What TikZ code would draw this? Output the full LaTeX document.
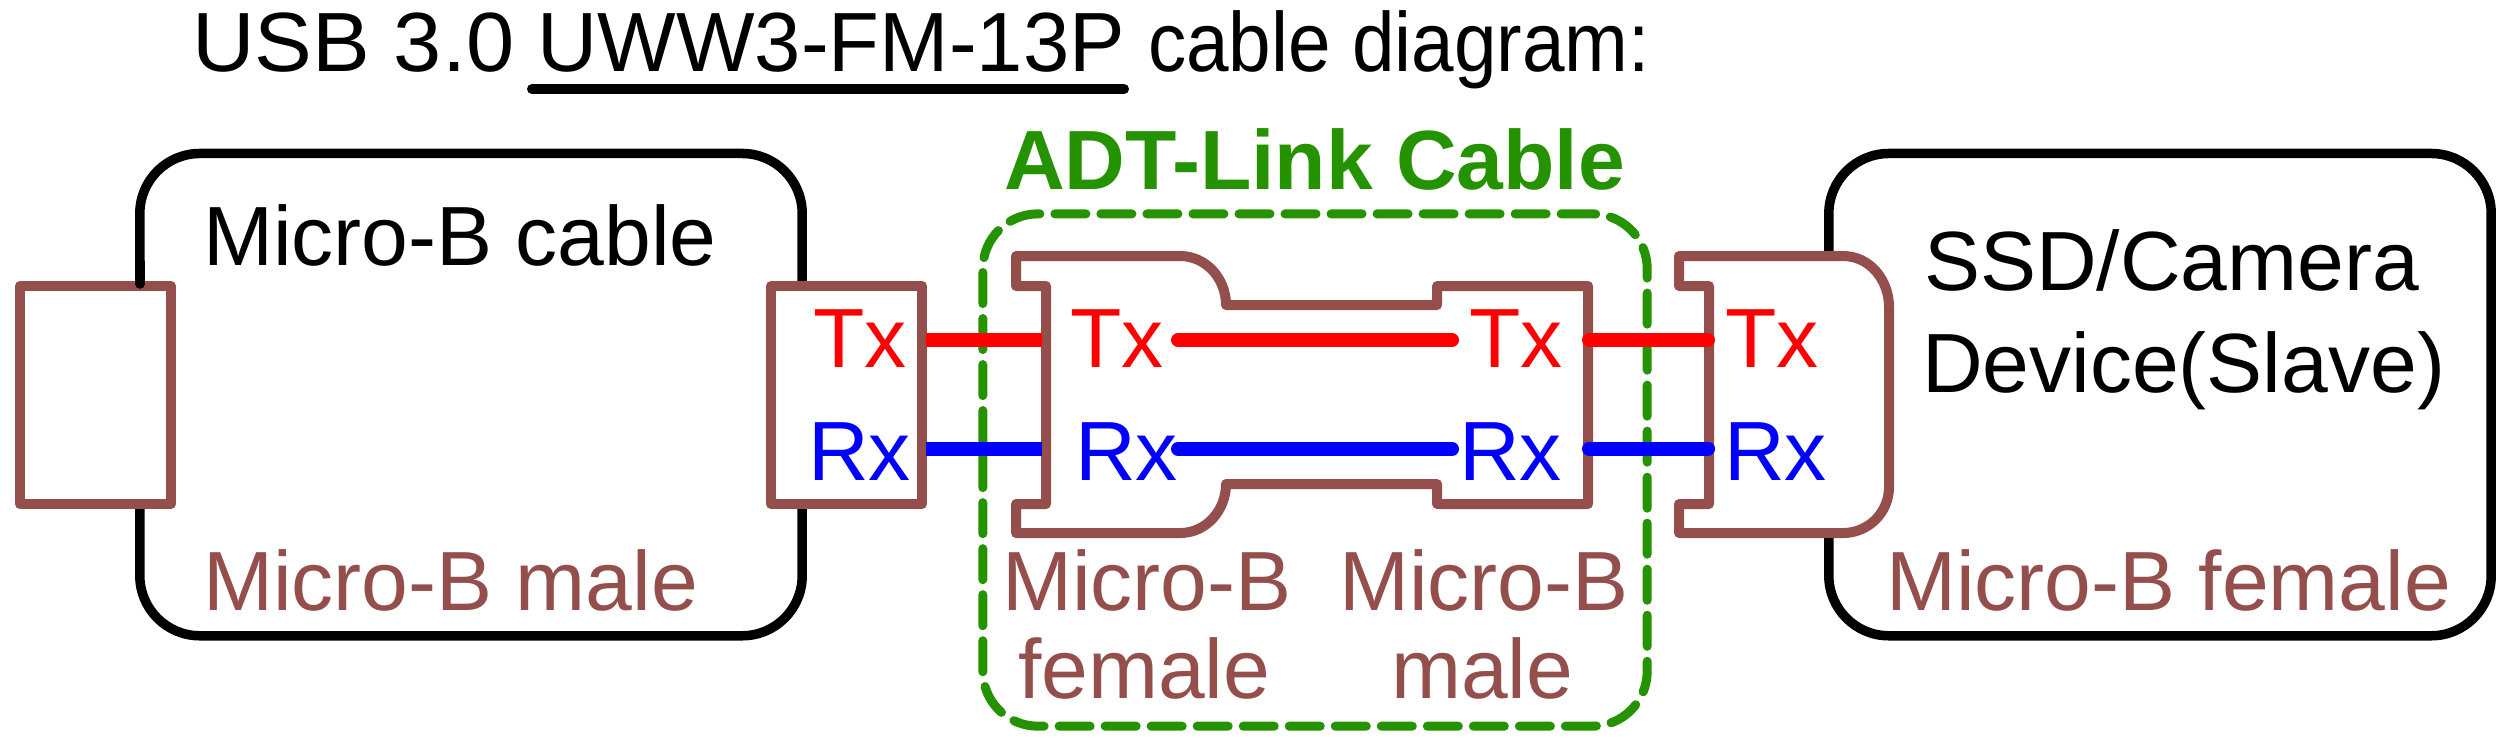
\documentclass[tikz,border=0pt]{standalone}
\usepackage{fontspec}
\setmainfont{Liberation Sans}
\usepackage{tikz}
\definecolor{plugbrown}{HTML}{944F4C}
\definecolor{linkgreen}{HTML}{259200}
\tikzset{
	lbl/.style={anchor=base west, inner sep=0pt, outer sep=0pt, font=\fontsize{23.9pt}{23.9pt}\selectfont},
	brownlbl/.style={lbl, text=plugbrown},
	txlbl/.style={lbl, text=red},
	rxlbl/.style={lbl, text=blue},
	devbox/.style={draw=black, line width=0.095cm, rounded corners=0.6cm, minimum width=6.62cm, minimum height=4.82cm, inner sep=0pt, outer sep=0pt},
	plugline/.style={draw=plugbrown, fill=white, line width=0.1cm, line join=round},
	plugbox/.style={plugline, minimum width=1.51cm, minimum height=2.18cm, inner sep=0pt, outer sep=0pt},
	txwire/.style={draw=red, line width=0.14cm},
	rxwire/.style={draw=blue, line width=0.14cm},
	linkbox/.style={draw=linkgreen, line width=0.09cm, line cap=round, dash pattern=on 0.31cm off 0.15cm, rounded corners=0.55cm, minimum width=6.64cm, minimum height=5.12cm, inner sep=0pt, outer sep=0pt}
}
\begin{document}
\begin{tikzpicture}[x=0.01cm, y=-0.01cm]
	\useasboundingbox (0,0) rectangle (2510,741);

	\node[lbl] (title) at (192,71) {{\addfontfeature{FakeStretch=1.03}USB 3.0} {\addfontfeature{FakeStretch=0.99}UWW3-FM-13P} {\addfontfeature{FakeStretch=0.91}cable diagram:}};
	\coordinate (ulstart) at (532,89);
	\coordinate (ulend) at (1124,89);
	\draw[line width=0.1cm, line cap=round] (ulstart) -- (ulend);

	\node[devbox] (cablebox) at (471,394.6) {};
	\node[devbox] (devicebox) at (2160,394.6) {};
	\node[linkbox] (adtbox) at (1315,470) {};

	% connectors
	\node[plugbox] (plugend) at (95.5,395) {};
	\node[plugbox] (malebox) at (846.5,395) {};
	\coordinate (cablestub) at (140,262);
	\coordinate (cablestubend) at (140,284);
	\draw[line width=0.095cm, line cap=round] (cablestub) -- (cablestubend);

	\draw[plugline] (1016,256) -- (1180,256) to[out=0,in=90] (1226,305) -- (1437,305) -- (1437,286) -- (1588,286)
		-- (1588,504) -- (1437,504) -- (1437,484) -- (1226,484) to[out=-90,in=0] (1180,533) -- (1016,533)
		-- (1016,504) -- (1046,504) -- (1046,286) -- (1016,286) -- cycle;
	\draw[plugline] (1679,256) -- (1843,256) to[out=0,in=90] (1889,307) -- (1889,487) to[out=-90,in=0] (1843,533) -- (1679,533)
		-- (1679,504) -- (1709,504) -- (1709,286) -- (1679,286) -- cycle;

	% wires
	\coordinate (tx1) at (926,340);
	\coordinate (tx2) at (1042,340);
	\coordinate (rx1) at (926,449);
	\coordinate (rx2) at (1042,449);
	\coordinate (tx3) at (1178,340);
	\coordinate (tx4) at (1452,340);
	\coordinate (rx3) at (1178,449);
	\coordinate (rx4) at (1452,449);
	\coordinate (tx5) at (1589,340);
	\coordinate (tx6) at (1708,340);
	\coordinate (rx5) at (1589,448.5);
	\coordinate (rx6) at (1708,448.5);
	\draw[txwire] (tx1) -- (tx2);
	\draw[rxwire] (rx1) -- (rx2);
	\draw[txwire, line cap=round] (tx3) -- (tx4);
	\draw[rxwire, line cap=round] (rx3) -- (rx4);
	\draw[txwire, line cap=round] (tx5) -- (tx6);
	\draw[rxwire, line cap=round] (rx5) -- (rx6);

	\node[lbl, font=\fontsize{23.9pt}{23.9pt}\selectfont\bfseries, text=linkgreen] (adtlabel) at (1004,189) {ADT-Link Cable};
	\node[lbl] (cablelabel) at (203,265.6) {Micro-B cable};
	\node[brownlbl] (malelabel) at (203,610.6) {Micro-B male};
	\node[txlbl] (txA) at (813,367.7) {Tx};
	\node[rxlbl] (rxA) at (808,480.6) {Rx};
	\node[txlbl] (txB) at (1070,367.7) {Tx};
	\node[rxlbl] (rxB) at (1075,480.6) {Rx};
	\node[txlbl] (txC) at (1469,367.7) {Tx};
	\node[rxlbl] (rxC) at (1459,480.6) {Rx};
	\node[txlbl] (txD) at (1725,367.7) {Tx};
	\node[rxlbl] (rxD) at (1724,480.6) {Rx};
	\node[brownlbl] (femA) at (1002,610.6) {Micro-B};
	\node[brownlbl] (femB) at (1018,698.5) {female};
	\node[brownlbl] (malA) at (1339,610.6) {Micro-B};
	\node[brownlbl] (malB) at (1391,698.5) {male};
	\node[lbl] (ssd) at (1924,290.6) {SSD/Camera};
	\node[lbl] (device) at (1922,392) {Device(Slave)};
	\node[brownlbl] (femlabel) at (1886,610.6) {Micro-B female};
\end{tikzpicture}
\end{document}
